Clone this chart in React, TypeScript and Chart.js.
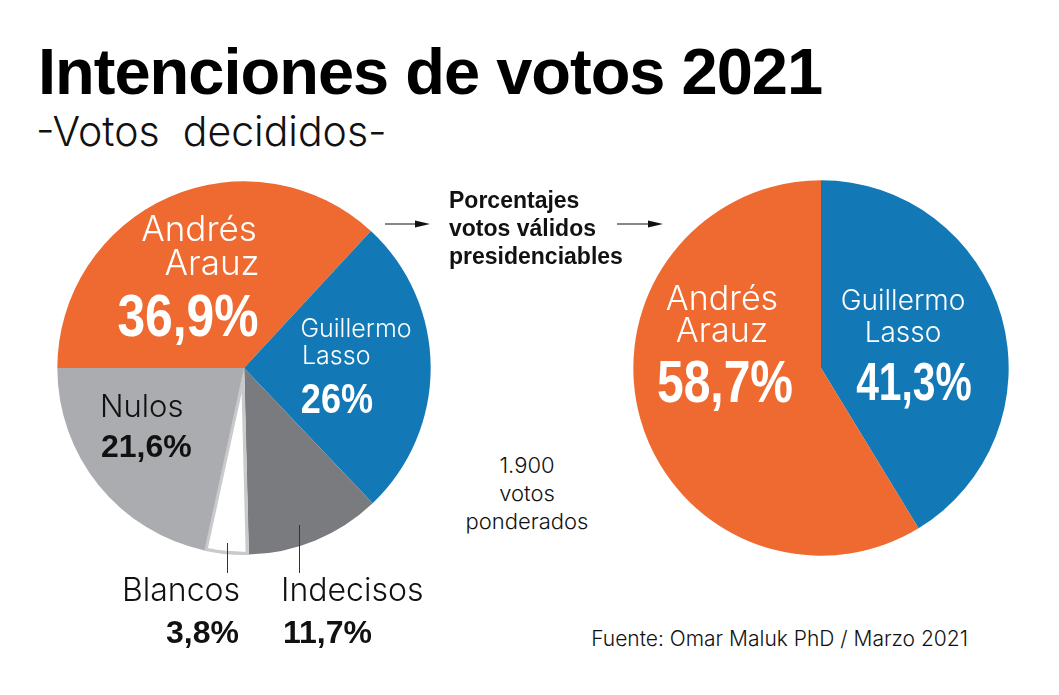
import { useEffect, useRef } from 'react';
import type { CSSProperties } from 'react';
import { Chart, registerables } from 'chart.js';
Chart.register(...registerables);

const FONT = '"Liberation Sans", Arial, sans-serif';
const LIGHT_FONT = 'Inter, "Liberation Sans", sans-serif';

const LEFT_NAMES = ['Andrés Arauz', 'Guillermo Lasso', 'Indecisos', 'Blancos', 'Nulos'];
const LEFT_VALUES = [36.9, 26, 11.7, 3.8, 21.6];
const LEFT_COLORS = ['#ee6a30', '#1279b6', '#7a7b7f', '#ffffff', '#abacb0'];

const RIGHT_NAMES = ['Guillermo Lasso', 'Andrés Arauz'];
const RIGHT_VALUES = [41.3, 58.7];
const RIGHT_COLORS = ['#1279b6', '#ee6a30'];

function Pie({ labels, values, colors, rotation, cx, cy, r, outlined }: {
  labels: string[]; values: number[]; colors: string[]; rotation: number;
  cx: number; cy: number; r: number; outlined?: number;
}) {
  const ref = useRef<HTMLCanvasElement>(null);

  useEffect(() => {
    if (!ref.current) return;
    const chart = new Chart(ref.current, {
      type: 'pie',
      data: {
        labels,
        datasets: [{
          data: values,
          backgroundColor: colors,
          borderAlign: 'inner',
          borderColor: colors.map((_, i) => (i === outlined ? '#c9cacc' : colors[i])),
          borderWidth: colors.map((_, i) => (i === outlined ? 3 : 0)),
        }],
      },
      options: {
        animation: false,
        responsive: false,
        rotation,
        plugins: { legend: { display: false }, tooltip: { enabled: false } },
      },
    });
    return () => chart.destroy();
  }, []);

  return (
    <canvas
      ref={ref}
      width={r * 2}
      height={r * 2}
      style={{ position: 'absolute', left: cx - r, top: cy - r, width: r * 2, height: r * 2 }}
    />
  );
}

// x is the anchor, y the vertical middle of the line
function T({ x, y, size, bold, color = '#111', align = 'left', squeeze = 1, spacing = 0, children }: {
  x: number; y: number; size: number; bold?: boolean; color?: string;
  align?: 'left' | 'center' | 'right'; squeeze?: number; spacing?: number; children: string;
}) {
  const shift = align === 'left' ? '0' : align === 'center' ? '-50%' : '-100%';
  const origin = align === 'left' ? 'left' : align === 'center' ? 'center' : 'right';
  const style: CSSProperties = {
    position: 'absolute',
    left: x,
    top: y,
    fontFamily: bold ? FONT : LIGHT_FONT,
    fontSize: size,
    fontWeight: bold ? 700 : 300,
    color,
    lineHeight: 1,
    letterSpacing: spacing,
    whiteSpace: 'pre',
    transformOrigin: origin,
    transform: `translate(${shift}, -50%) scaleX(${squeeze})`,
  };
  return <div style={style}>{children}</div>;
}

function Arrow({ x, y, w }: { x: number; y: number; w: number }) {
  return (
    <svg style={{ position: 'absolute', left: x, top: y - 5 }} width={w} height={10}>
      <line x1={0} y1={5} x2={w - 8} y2={5} stroke="#111" strokeWidth={1} />
      <polygon points={`${w - 15},1.5 ${w},5 ${w - 15},8.5`} fill="#111" />
    </svg>
  );
}

function Leader({ x, y1, y2 }: { x: number; y1: number; y2: number }) {
  return <div style={{ position: 'absolute', left: x, top: y1, width: 1, height: y2 - y1, background: '#333' }} />;
}

export default function App() {
  return (
    <div style={{ position: 'absolute', left: 0, top: 0, width: 1059, height: 695, background: '#fff', overflow: 'hidden' }}>
      <T x={38} y={71} size={65} bold color="#000" spacing={-1}>Intenciones de votos 2021</T>
      <T x={36} y={131} size={41}>-Votos  decididos-</T>

      <Pie labels={LEFT_NAMES} values={LEFT_VALUES} colors={LEFT_COLORS} rotation={-90} cx={244} cy={368} r={187} outlined={3} />
      <Pie labels={RIGHT_NAMES} values={RIGHT_VALUES} colors={RIGHT_COLORS} rotation={0} cx={821} cy={368} r={188} />

      <T x={199} y={228} size={35} align="center" color="#fff">Andrés</T>
      <T x={212} y={262} size={35} align="center" color="#fff">Arauz</T>
      <T x={188} y={316} size={60} bold align="center" color="#fff" squeeze={0.83}>36,9%</T>

      <T x={356} y={328} size={25} align="center" color="#fff">Guillermo</T>
      <T x={302} y={355} size={25} color="#fff">Lasso</T>
      <T x={337} y={398} size={43} bold align="center" color="#fff" squeeze={0.84}>26%</T>

      <T x={100} y={405} size={31}>Nulos</T>
      <T x={101} y={446} size={32} bold>21,6%</T>

      <Leader x={227} y1={543} y2={573} />
      <Leader x={299} y1={525} y2={573} />
      <T x={181} y={590} size={32} align="center">Blancos</T>
      <T x={239} y={632} size={32} bold align="right">3,8%</T>
      <T x={281} y={590} size={32}>Indecisos</T>
      <T x={283} y={632} size={32} bold>11,7%</T>

      <Arrow x={385} y={224} w={45} />
      <T x={449} y={200} size={23} bold>Porcentajes</T>
      <T x={449} y={228} size={23} bold>votos válidos</T>
      <T x={449} y={256} size={23} bold>presidenciables</T>
      <Arrow x={617} y={224} w={46} />

      <T x={722} y={298} size={34} align="center" color="#fff">Andrés</T>
      <T x={722} y={330} size={34} align="center" color="#fff">Arauz</T>
      <T x={725} y={382} size={60} bold align="center" color="#fff" squeeze={0.8}>58,7%</T>

      <T x={903} y={300} size={28} align="center" color="#fff">Guillermo</T>
      <T x={903} y={332} size={28} align="center" color="#fff">Lasso</T>
      <T x={914} y={381} size={53} bold align="center" color="#fff" squeeze={0.77}>41,3%</T>

      <T x={527} y={465} size={22} align="center">1.900</T>
      <T x={527} y={493} size={22} align="center">votos</T>
      <T x={527} y={521} size={22} align="center">ponderados</T>

      <T x={968} y={638} size={21} align="right">Fuente: Omar Maluk PhD / Marzo 2021</T>
    </div>
  );
}
